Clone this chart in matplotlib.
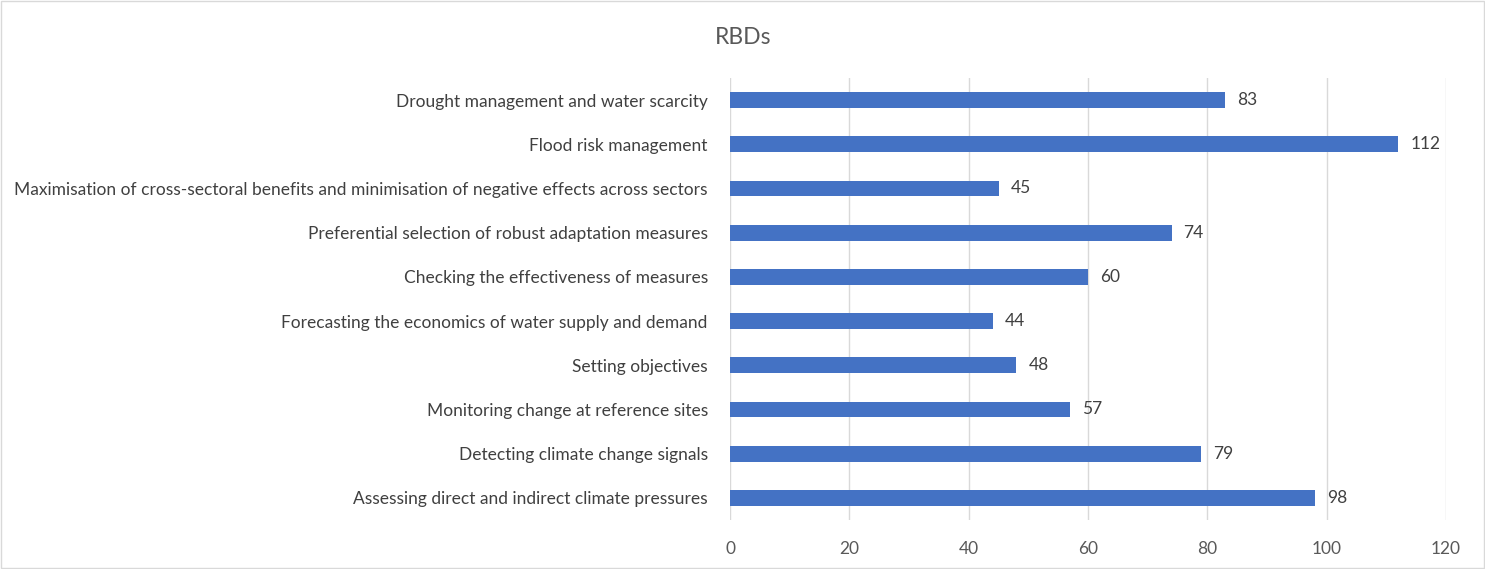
import matplotlib
matplotlib.use("Agg")
import matplotlib.pyplot as plt
from matplotlib.patches import Rectangle

categories = [
    "Assessing direct and indirect climate pressures",
    "Detecting climate change signals",
    "Monitoring change at reference sites",
    "Setting objectives",
    "Forecasting the economics of water supply and demand",
    "Checking the effectiveness of measures",
    "Preferential selection of robust adaptation measures",
    "Maximisation of cross-sectoral benefits and minimisation of negative effects across sectors",
    "Flood risk management",
    "Drought management and water scarcity",
]
values = [98, 79, 57, 48, 44, 60, 74, 45, 112, 83]
xticks = [0, 20, 40, 60, 80, 100, 120]
title = "RBDs"

plt.rcParams['font.family'] = ['Lato', 'DejaVu Sans']
text_color = "#595959"

fig = plt.figure(figsize=(14.85, 5.69), dpi=100)
ax = fig.add_axes([730/1485, 1-520/569, (1446-730)/1485, (520-78)/569])

ypos = list(range(len(categories)))
ax.barh(ypos, values, height=0.36, color="#4472C4", zorder=3)
for y, v in zip(ypos, values):
    ax.text(v + 2.0, y, str(v), va="center", ha="left", fontsize=12.5, color="#404040")

ax.set_xlim(0, 120)
ax.set_ylim(-0.5, 9.5)
ax.set_xticks(xticks)
ax.set_xticklabels([str(t) for t in xticks], fontsize=12.5, color=text_color)
ax.set_yticks(ypos)
ax.set_yticklabels(categories, fontsize=12.5, color="#404040")
ax.tick_params(axis="x", length=0, pad=15)
ax.tick_params(axis="y", length=0, pad=16)
ax.grid(axis="x", color="#D9D9D9", linewidth=1, zorder=0)
for s in ax.spines.values():
    s.set_visible(False)

fig.text(743/1485, 1-37/569, title, ha="center", va="center", fontsize=16.5, color=text_color)
fig.patches.append(Rectangle((0.001, 0.002), 0.998, 0.996, transform=fig.transFigure,
                             fill=False, edgecolor="#D9D9D9", linewidth=1))

fig.savefig("out.png", dpi=100)
